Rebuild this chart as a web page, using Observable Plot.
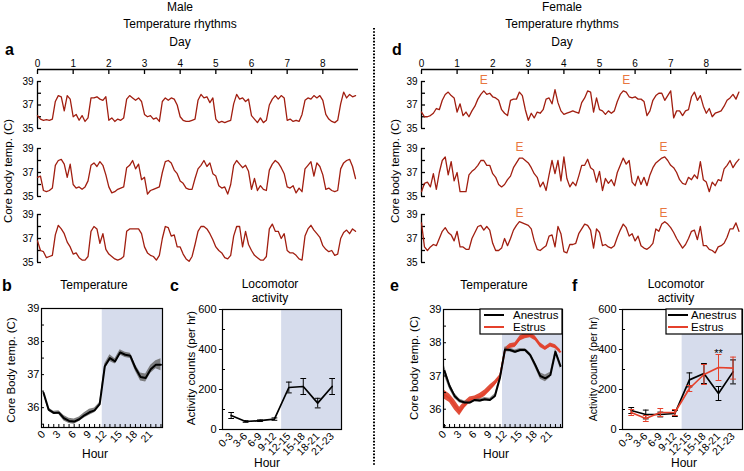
<!DOCTYPE html>
<html>
<head>
<meta charset="utf-8">
<script src="https://cdn.jsdelivr.net/npm/d3@7"></script>
<script src="https://cdn.jsdelivr.net/npm/@observablehq/plot@0.6"></script>
<style>
  body { margin: 0; background: #fff; }
  #fig { position: relative; width: 744px; height: 471px; overflow: hidden; background: #fff;
         font-family: "Liberation Sans", Arial, Helvetica, sans-serif; color: #000; }
</style>
</head>
<body>
<div id="fig"></div>
<script>
// ---------------- DATA ----------------
// Core body temperature traces, one value every 2 hours over 9 days
const sampleHours = 2;
const maleRow1 = [
36.1,35.8,35.7,35.75,35.7,35.8,37.3,37.8,37.7,36.5,37.8,37.5,
36.0,36.2,35.7,36.1,35.6,35.9,37.6,37.6,37.7,37.5,37.4,37.7,
35.7,35.9,35.6,35.8,35.7,35.9,37.5,37.8,37.6,37.4,37.6,37.3,
36.2,36.0,36.1,35.8,35.9,35.6,37.3,37.6,37.4,37.6,37.5,37.0,
36.0,35.7,35.6,35.6,35.7,35.8,37.4,37.9,37.6,37.7,37.2,37.6,
35.8,35.5,35.6,35.5,35.6,35.7,37.1,37.9,37.5,37.6,37.3,37.5,
36.1,35.8,35.5,35.9,35.5,35.7,37.0,37.5,37.8,37.5,37.8,37.6,
35.7,35.8,35.6,35.7,35.6,36.2,37.4,37.6,37.5,37.8,37.6,37.8,
37.4,36.2,35.8,35.6,35.5,35.7,37.1,38.1,37.6,37.9,37.7,37.8];
const maleRow2 = [
36.6,36.7,35.5,35.4,35.5,35.7,37.6,38.0,38.1,37.7,36.6,37.7,
36.0,35.7,35.8,35.6,35.8,36.3,37.6,37.8,37.5,37.9,37.6,36.8,
35.8,35.3,35.4,35.6,35.7,35.8,37.4,37.6,38.0,37.3,37.7,36.4,
36.6,35.2,35.5,35.6,35.7,35.8,37.0,37.9,38.0,37.8,37.2,36.9,
36.3,36.1,35.7,35.6,35.6,36.5,37.3,37.6,38.0,37.5,37.8,36.9,
36.7,35.9,35.7,35.8,35.2,36.0,37.6,38.0,37.7,37.4,37.6,37.1,
35.6,36.5,35.5,35.9,35.6,35.5,37.2,37.7,38.0,37.8,37.4,36.9,
35.8,35.7,35.9,35.3,35.7,35.4,37.3,37.6,37.9,36.7,37.8,37.5,
36.8,35.6,35.7,35.5,35.4,35.5,37.3,37.8,38.0,38.1,37.5,36.5];
const maleRow3 = [
36.8,36.0,35.9,35.4,35.5,35.6,37.3,38.1,37.8,37.4,36.7,36.3,
35.7,35.8,35.4,35.2,35.2,35.5,37.6,38.0,37.8,36.6,37.4,36.1,
35.7,35.5,35.3,35.2,35.3,35.5,37.6,37.8,37.8,37.8,37.8,37.4,
36.3,35.8,35.6,35.5,35.2,35.6,37.0,38.0,37.9,37.2,37.3,36.3,
36.3,35.7,35.3,35.1,35.5,36.5,37.6,38.0,38.0,37.8,37.4,36.9,
36.3,36.0,35.8,35.4,35.3,35.6,37.2,38.0,38.0,36.3,37.6,36.5,
36.0,35.6,35.4,35.2,35.2,35.5,37.8,38.2,37.6,37.6,37.0,37.4,
36.0,35.8,35.8,35.6,35.3,35.2,37.2,37.8,38.1,37.7,37.4,37.1,
36.4,36.1,35.9,36.0,35.6,35.7,37.0,37.5,37.7,37.4,37.8,37.6];
const femaleRow1 = [
36.4,36.0,36.0,36.1,36.3,36.7,36.6,37.4,37.9,38.1,37.8,37.6,
36.4,37.1,36.1,36.4,36.0,36.5,36.9,37.5,37.9,38.2,37.9,38.0,
37.7,37.6,37.4,36.6,36.3,36.1,37.4,37.5,37.5,38.1,37.8,36.6,
35.7,36.3,35.9,36.4,36.3,36.6,37.5,37.6,37.1,38.3,37.2,36.5,
36.2,36.3,36.4,36.5,36.4,36.3,37.2,37.6,38.2,38.1,36.4,37.6,
36.6,36.5,36.2,36.5,36.3,36.5,37.3,37.9,38.2,38.1,37.7,37.6,
37.7,37.5,37.5,37.3,36.1,36.5,37.4,37.8,38.0,38.0,37.4,37.8,
38.2,35.9,36.5,36.5,36.1,36.5,36.6,37.7,38.1,37.4,37.8,36.9,
36.3,36.7,36.0,36.3,36.4,36.5,36.9,37.4,37.6,37.9,37.5,38.1];
const femaleRow2 = [
35.4,36.1,36.2,35.8,36.9,35.6,37.0,38.0,38.3,36.8,37.9,36.3,
37.0,35.4,35.4,35.4,36.8,37.1,37.3,37.6,38.0,38.0,37.6,37.6,
36.9,36.6,36.0,35.8,36.0,36.4,36.7,37.4,37.8,38.2,38.2,38.0,
37.8,37.4,36.9,36.6,35.8,36.2,35.5,36.8,38.0,36.9,38.0,36.3,
38.3,36.5,35.8,36.2,35.9,36.7,37.6,37.6,38.1,37.4,37.2,36.2,
37.1,35.5,36.5,36.1,36.4,35.9,37.0,37.6,38.2,37.7,38.0,36.2,
35.9,36.7,36.0,36.6,35.9,36.8,37.4,37.8,38.0,38.2,38.3,38.0,
37.6,37.4,37.0,36.4,36.1,36.0,36.6,36.4,36.8,36.5,37.9,36.4,
36.2,35.4,36.2,35.9,36.4,36.3,37.3,37.6,38.0,37.4,37.8,38.1];
const femaleRow3 = [
38.3,36.3,36.0,36.3,36.5,36.4,37.0,37.6,37.9,37.5,37.3,36.8,
37.6,36.3,36.3,36.1,36.1,37.0,37.5,38.0,38.1,37.7,38.0,37.7,
36.6,36.0,36.0,36.2,37.0,36.4,37.0,37.7,38.1,38.4,38.3,38.2,
38.1,37.8,36.8,36.1,36.0,36.2,36.4,37.2,37.3,36.3,38.0,37.4,
35.9,35.8,36.5,36.5,36.6,37.4,37.8,38.2,38.1,37.7,36.2,37.8,
37.5,36.4,36.5,36.3,36.2,36.4,37.1,37.7,38.2,37.9,37.2,37.4,
36.8,37.2,36.4,36.2,36.1,36.3,36.6,37.8,37.6,38.2,38.4,38.2,
37.9,37.5,37.0,36.6,36.2,36.5,37.0,37.6,37.7,36.9,38.0,36.4,
36.4,36.1,36.0,35.8,36.3,36.4,36.6,37.1,37.8,37.8,38.3,37.6];
// Estrus markers (day positions) for each female row
const estrusDays = [[1.75, 5.75], [2.75, 6.8], [2.75, 6.8]];

const dayTicks = [0, 1, 2, 3, 4, 5, 6, 7, 8];
const dayDomain = [0, 9];
const tempDomain = [35, 39];
const tempTicks = [35, 36, 37, 38, 39];
const tempLabels = [35, 37, 39];

// Panel b: male hourly temperature (mean, SEM)
const hours = d3.range(0, 24);
const maleTempMean = [36.45,35.94,35.84,35.85,35.68,35.6,35.58,35.65,35.77,35.86,35.92,36.11,
                      37.25,37.5,37.4,37.67,37.6,37.57,37.2,36.93,36.9,37.16,37.3,37.3];
const maleTempSem  = [0.05,0.05,0.05,0.06,0.08,0.08,0.08,0.07,0.08,0.09,0.07,0.05,
                      0.08,0.1,0.08,0.08,0.08,0.08,0.1,0.12,0.12,0.12,0.12,0.18];
// Panel e: female hourly temperature
const anestrusTempMean = [37.15,36.7,36.4,36.25,36.2,36.2,36.28,36.26,36.3,36.28,36.4,36.95,
                          37.8,37.78,37.73,37.78,37.78,37.63,37.33,37.0,36.93,37.03,37.73,37.3];
const anestrusTempSem  = [0.15,0.1,0.08,0.06,0.05,0.05,0.05,0.05,0.05,0.05,0.06,0.06,
                          0.07,0.06,0.05,0.05,0.05,0.06,0.08,0.1,0.1,0.08,0.08,0.1];
const estrusTempMean = [36.43,36.33,36.13,35.93,36.13,36.28,36.33,36.38,36.48,36.63,36.78,36.98,
                        37.78,37.9,37.93,38.13,38.2,38.23,38.13,37.93,37.83,37.93,37.88,37.73];
const estrusTempSem  = [0.13,0.13,0.15,0.13,0.1,0.09,0.07,0.09,0.1,0.1,0.08,0.06,
                        0.06,0.07,0.07,0.08,0.08,0.08,0.07,0.07,0.06,0.06,0.06,0.06];
const darkStartHour = 11.5;

// Panels c, f: locomotor activity (counts per hr) in 3-h bins
const hourBins = ["0-3","3-6","6-9","9-12","12-15","15-18","18-21","21-23"];
const maleActMean = [70, 40, 44, 52, 210, 215, 132, 215];
const maleActErr  = [15, 4, 4, 6, 27, 40, 24, 40];
const anestrusActMean = [95, 75, 75, 80, 248, 280, 180, 288];
const anestrusActErr  = [15, 22, 12, 15, 35, 50, 35, 60];
const estrusActMean = [85, 55, 85, 85, 205, 275, 310, 307];
const estrusActErr  = [15, 15, 20, 15, 15, 50, 65, 55];
const darkStartBin = 3.5;
const sigBin = 6; // "**"

// ---------------- STYLE ----------------
const traceColor = "#a11e10", eColor = "#e8773f", shade = "#d6dcec", red = "#e5402b";
const FONT = '"Liberation Sans", Arial, Helvetica, sans-serif';
const fig = document.getElementById("fig");
function put(el, left, top) {
  el.style.position = "absolute"; el.style.left = left + "px"; el.style.top = top + "px";
  fig.appendChild(el);
}
const baseStyle = {fontFamily: FONT, overflow: "visible", background: "transparent", color: "black"};

// ---------------- TRACE ROWS (a, d) ----------------
function traceRow(vals, o) {
  const data = vals.map((v, i) => ({day: i * sampleHours / 24, temp: v}));
  const marks = [
    Plot.ruleX([dayDomain[0]], {stroke: "black", strokeWidth: 1.3}),
    Plot.axisY({ticks: tempTicks, tickFormat: d => tempLabels.includes(d) ? d : "", tickSize: -4,
                tickPadding: 8, fontSize: 10, label: null, strokeWidth: 1.3}),
    Plot.line(data, {x: "day", y: "temp", stroke: traceColor, strokeWidth: 1.3})
  ];
  if (o.dayAxis) marks.push(
    Plot.ruleY([tempDomain[1]], {x1: dayDomain[0], x2: dayDomain[1], dy: -12, strokeWidth: 1.3}),
    Plot.axisX({anchor: "top", ticks: dayTicks, tickSize: -4, tickPadding: 7, dy: -12,
                fontSize: 10, label: null, strokeWidth: 1.3})
  );
  if (o.eDays) marks.push(Plot.text(o.eDays, {x: d => d, frameAnchor: "top", text: () => "E",
                fill: eColor, fontSize: 12, lineAnchor: "middle", dy: -1}));
  const h = o.mt + (o.y35 - o.y39) + o.mb;
  const p = Plot.plot({
    width: o.width, height: h, marginLeft: o.ml, marginRight: o.mr, marginTop: o.mt, marginBottom: o.mb,
    x: {domain: dayDomain, axis: null}, y: {domain: tempDomain, axis: null},
    style: baseStyle, marks
  });
  put(p, o.left, o.y39 - o.mt);
}
const rowPos = [[81, 128], [148, 196], [214, 262]];
[maleRow1, maleRow2, maleRow3].forEach((vals, r) => traceRow(vals, {
  left: 0, width: 372, ml: 37, mr: 14, y39: rowPos[r][0], y35: rowPos[r][1],
  mt: r === 0 ? 44 : 10, mb: 4, dayAxis: r === 0
}));
[femaleRow1, femaleRow2, femaleRow3].forEach((vals, r) => traceRow(vals, {
  left: 376, width: 368, ml: 45, mr: 2.6, y39: rowPos[r][0], y35: rowPos[r][1],
  mt: r === 0 ? 44 : 10, mb: 4, dayAxis: r === 0, eDays: estrusDays[r]
}));

// ---------------- HOURLY TEMPERATURE (b, e) ----------------
function tempPanel(o) {
  const marks = [
    Plot.rect([darkStartHour], {x1: d => d, x2: () => o.xDomain[1], y1: () => o.yDomain[0], y2: () => o.yDomain[1], fill: shade})
  ];
  const sets = o.series.map(s => s.mean.map((m, i) => ({hour: hours[i], m, lo: m - s.sem[i], hi: m + s.sem[i]})));
  o.bandOrder.forEach(k => marks.push(Plot.areaY(sets[k], {x: "hour", y1: "lo", y2: "hi",
      fill: o.series[k].band, fillOpacity: o.series[k].bandOpacity, curve: "linear"})));
  o.lineOrder.forEach(k => marks.push(Plot.line(sets[k], {x: "hour", y: "m", stroke: o.series[k].color, strokeWidth: o.series[k].width})));
  marks.push(
    Plot.frame({stroke: "black", strokeWidth: 1.2}),
    Plot.axisY({ticks: d3.range(35.5, 39.01, 0.5), tickFormat: d => Number.isInteger(d) ? d : "",
                tickSize: -3, tickPadding: 5, fontSize: 11, label: null}),
    Plot.axisX({ticks: hours, tickFormat: d => d % 3 === 0 ? d : "", tickSize: -3, tickPadding: 8,
                tickRotate: -45, fontSize: 10.5, label: null})
  );
  const p = Plot.plot({
    width: o.width, height: o.mt + o.frameH + o.mb, marginLeft: o.ml, marginRight: o.mr,
    marginTop: o.mt, marginBottom: o.mb,
    x: {domain: o.xDomain, axis: null}, y: {domain: o.yDomain, axis: null},
    style: baseStyle, marks
  });
  put(p, o.left, o.top - o.mt);
}
tempPanel({
  left: 0, width: 172, ml: 41, mr: 10, top: 308, frameH: 119, mt: 8, mb: 34,
  xDomain: [-0.4, 23.3], yDomain: [35.4, 39],
  series: [{mean: maleTempMean, sem: maleTempSem, color: "black", width: 2, band: "#6b6b6b", bandOpacity: 0.85}],
  bandOrder: [0], lineOrder: [0]
});
tempPanel({
  left: 400, width: 170, ml: 43, mr: 8, top: 309, frameH: 118, mt: 8, mb: 34,
  xDomain: [-0.2, 23.4], yDomain: [35.45, 39],
  series: [
    {mean: anestrusTempMean, sem: anestrusTempSem, color: "black", width: 2, band: "#6b6b6b", bandOpacity: 0.8},
    {mean: estrusTempMean, sem: estrusTempSem, color: red, width: 1.6, band: "#dd3d27", bandOpacity: 0.9}
  ],
  bandOrder: [1, 0], lineOrder: [1, 0]
});

// ---------------- ACTIVITY (c, f) ----------------
function actPanel(o) {
  const xDomain = [-0.6, 7.65], yDomain = [0, 600], cap = 0.2;
  const marks = [
    Plot.rect([darkStartBin], {x1: d => d, x2: () => xDomain[1], y1: () => yDomain[0], y2: () => yDomain[1], fill: shade})
  ];
  o.series.forEach(s => {
    const rows = s.mean.map((m, i) => ({i, m, lo: m - s.err[i], hi: m + s.err[i]}));
    marks.push(
      Plot.ruleX(rows, {x: "i", y1: "lo", y2: "hi", stroke: s.color, strokeWidth: 1}),
      Plot.link(rows, {x1: d => d.i - cap, x2: d => d.i + cap, y1: "hi", y2: "hi", stroke: s.color, strokeWidth: 1}),
      Plot.link(rows, {x1: d => d.i - cap, x2: d => d.i + cap, y1: "lo", y2: "lo", stroke: s.color, strokeWidth: 1}),
      Plot.line(rows, {x: "i", y: "m", stroke: s.color, strokeWidth: 1.7})
    );
  });
  if (o.sig) {
    const s = o.series[o.sig.series];
    marks.push(Plot.text([sigBin], {x: d => d, y: d => s.mean[d] + s.err[d], text: () => "**",
      fontSize: 11, lineAnchor: "bottom", dy: 2}));
  }
  marks.push(
    Plot.frame({stroke: "black", strokeWidth: 1.2}),
    Plot.axisY({ticks: [0, 200, 400, 600], tickSize: 3, tickPadding: 3, fontSize: 11, label: null}),
    Plot.axisY({ticks: [100, 300, 500], tickSize: -3, tickFormat: () => "", label: null}),
    Plot.axisX({ticks: d3.range(hourBins.length), tickFormat: i => hourBins[i], tickSize: 0, tickPadding: 5,
                tickRotate: -45, fontSize: 10.5, label: null})
  );
  const p = Plot.plot({
    width: o.width, height: o.mt + o.frameH + o.mb, marginLeft: o.ml, marginRight: o.mr,
    marginTop: o.mt, marginBottom: o.mb,
    x: {domain: xDomain, axis: null}, y: {domain: yDomain, axis: null},
    style: baseStyle, marks
  });
  put(p, o.left, o.top - o.mt);
}
actPanel({left: 180, width: 170, ml: 42, mr: 9, top: 309, frameH: 120, mt: 8, mb: 36,
  series: [{mean: maleActMean, err: maleActErr, color: "black"}]});
actPanel({left: 580, width: 164, ml: 42, mr: 2, top: 309, frameH: 120, mt: 8, mb: 36,
  series: [{mean: anestrusActMean, err: anestrusActErr, color: "black"},
           {mean: estrusActMean, err: estrusActErr, color: red}],
  sig: {series: 1}});

// ---------------- OVERLAY TEXT ----------------
const svg = d3.create("svg").attr("width", 744).attr("height", 471)
  .style("position", "absolute").style("left", 0).style("top", 0).style("pointer-events", "none")
  .attr("font-family", FONT);
fig.appendChild(svg.node());
function T(str, x, y, {size = 12, anchor = "middle", weight = "normal", rotate = 0, fill = "black"} = {}) {
  const t = svg.append("text").attr("x", x).attr("y", y).attr("font-size", size)
    .attr("text-anchor", anchor).attr("font-weight", weight).attr("fill", fill).text(str);
  if (rotate) t.attr("transform", `rotate(${rotate},${x},${y})`);
}
// divider
svg.append("line").attr("x1", 374).attr("x2", 374).attr("y1", 28).attr("y2", 466)
  .attr("stroke", "black").attr("stroke-width", 2).attr("stroke-dasharray", "1.6,1.6");
// headings
T("Male", 180, 11); T("Temperature rhythms", 180, 28); T("Day", 180, 46);
T("Female", 562, 11); T("Temperature rhythms", 562, 28); T("Day", 562, 46);
// panel letters
T("a", 5, 55, {size: 16, weight: "bold", anchor: "start"});
T("d", 392, 55, {size: 16, weight: "bold", anchor: "start"});
T("b", 2, 291, {size: 16, weight: "bold", anchor: "start"});
T("c", 170, 291, {size: 16, weight: "bold", anchor: "start"});
T("e", 390, 291, {size: 16, weight: "bold", anchor: "start"});
T("f", 572, 291, {size: 16, weight: "bold", anchor: "start"});
// y labels
T("Core body temp. (C)", 12, 171, {rotate: -90, size: 11.5});
T("Core body temp. (C)", 399, 171, {rotate: -90, size: 11.5});
T("Core Body temp. (C)", 15, 370, {rotate: -90, size: 11.5});
T("Activity counts (per hr)", 195, 368, {rotate: -90, size: 11.5});
T("Core body temp. (C)", 418, 368, {rotate: -90, size: 11.5});
T("Activity counts (per hr)", 597, 369, {rotate: -90, size: 10.5});
// panel titles
T("Temperature", 94, 289); T("Temperature", 494, 289);
T("Locomotor", 270, 288); T("activity", 270, 302);
T("Locomotor", 676, 288); T("activity", 676, 302);
// x labels
T("Hour", 95, 458); T("Hour", 267, 467); T("Hour", 496, 458); T("Hour", 684, 467);
// legends
function legend(x, y, w, h, lineX1, lineX2, textX) {
  svg.append("rect").attr("x", x).attr("y", y).attr("width", w).attr("height", h)
    .attr("fill", "white").attr("stroke", "black").attr("stroke-width", 1.2);
  svg.append("line").attr("x1", lineX1).attr("x2", lineX2).attr("y1", y + 6).attr("y2", y + 6)
    .attr("stroke", "black").attr("stroke-width", 2);
  svg.append("line").attr("x1", lineX1).attr("x2", lineX2).attr("y1", y + 18).attr("y2", y + 18)
    .attr("stroke", red).attr("stroke-width", 2);
  T("Anestrus", textX, y + 10, {anchor: "start", size: 11.5});
  T("Estrus", textX, y + 22, {anchor: "start", size: 11.5});
}
legend(480, 309, 82, 25, 484, 504, 513);
legend(666, 309, 76, 25, 668, 688, 691);
</script>
</body>
</html>
